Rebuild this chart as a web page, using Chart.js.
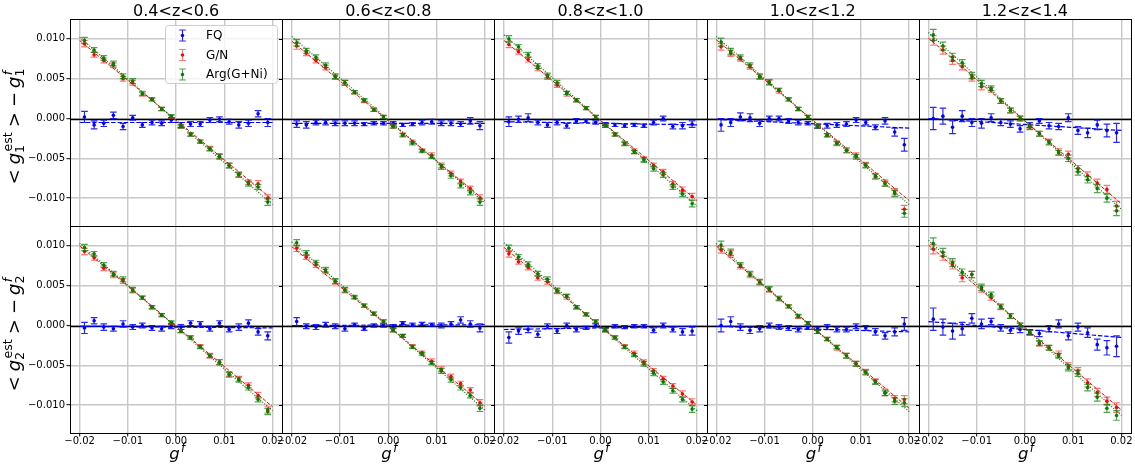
<!DOCTYPE html>
<html lang="en">
<head>
<meta charset="UTF-8">
<title>Shear bias per redshift bin</title>
<script src="https://cdn.jsdelivr.net/npm/chart.js"></script>
<style>
  body { margin: 0; background: #fff; }
</style>
</head>
<body>
<canvas id="biasChart" width="1135" height="474"></canvas>
<script>
// ---- data ----
const zBins = ['0.4<z<0.6', '0.6<z<0.8', '0.8<z<1.0', '1.0<z<1.2', '1.2<z<1.4'];
const gTrue = [-0.019, -0.017, -0.015, -0.013, -0.011, -0.009, -0.007, -0.005, -0.003, -0.001,
               0.001, 0.003, 0.005, 0.007, 0.009, 0.011, 0.013, 0.015, 0.017, 0.019];
const fitX = [-0.02, 0.02];
const xTicks = [-0.02, -0.01, 0, 0.01, 0.02];
const yTicks = [-0.01, -0.005, 0, 0.005, 0.01];

// FQ, g1 (top row), one array per redshift bin
const fqG1 = [
  [0.0002, -0.0008, -0.0006, 0.0004, -0.0010, 0.0001, -0.0008, -0.0005, -0.0006, -0.0002, -0.0008, -0.0007, -0.0007, -0.0002, -0.0001, -0.0004, -0.0008, -0.0006, 0.0006, -0.0005],
  [-0.0007, -0.0008, -0.0005, -0.0005, -0.0006, -0.0006, -0.0006, -0.0007, -0.0006, -0.0006, -0.0006, -0.0008, -0.0007, -0.0005, -0.0004, -0.0006, -0.0006, -0.0007, -0.0003, -0.0009],
  [-0.0004, -0.0001, 0.0001, -0.0005, -0.0008, -0.0005, -0.0009, -0.0003, -0.0003, -0.0005, -0.0007, -0.0008, -0.0009, -0.0008, -0.0009, -0.0005, 0.0000, -0.0010, -0.0009, -0.0007],
  [-0.0008, -0.0005, 0.0002, 0.0001, -0.0006, 0.0000, 0.0000, -0.0003, -0.0005, -0.0006, -0.0010, -0.0009, -0.0008, -0.0007, -0.0002, -0.0005, -0.0011, -0.0003, -0.0017, -0.0033],
  [0.0000, 0.0003, -0.0011, 0.0003, -0.0005, -0.0006, 0.0001, -0.0005, -0.0007, -0.0013, -0.0008, -0.0003, -0.0009, -0.0010, 0.0001, -0.0015, -0.0018, -0.0008, -0.0015, -0.0018]
];
const errFqG1 = [
  [0.0007, 0.0005, 0.0004, 0.0004, 0.0004, 0.0003, 0.0003, 0.0003, 0.0003, 0.0003, 0.0003, 0.0003, 0.0003, 0.0003, 0.0003, 0.0003, 0.0004, 0.0004, 0.0004, 0.0005],
  [0.0004, 0.0004, 0.0003, 0.0003, 0.0003, 0.0003, 0.0003, 0.0002, 0.0002, 0.0002, 0.0002, 0.0002, 0.0002, 0.0003, 0.0003, 0.0003, 0.0003, 0.0003, 0.0004, 0.0005],
  [0.0006, 0.0004, 0.0005, 0.0003, 0.0003, 0.0003, 0.0003, 0.0003, 0.0002, 0.0002, 0.0002, 0.0002, 0.0002, 0.0002, 0.0002, 0.0003, 0.0003, 0.0003, 0.0004, 0.0004],
  [0.0008, 0.0005, 0.0005, 0.0005, 0.0004, 0.0003, 0.0003, 0.0003, 0.0003, 0.0002, 0.0002, 0.0003, 0.0003, 0.0003, 0.0003, 0.0003, 0.0003, 0.0004, 0.0005, 0.0008],
  [0.0014, 0.0010, 0.0008, 0.0007, 0.0005, 0.0006, 0.0005, 0.0004, 0.0004, 0.0004, 0.0003, 0.0003, 0.0004, 0.0004, 0.0005, 0.0005, 0.0006, 0.0006, 0.0008, 0.0012]
];
// FQ, g2 (bottom row)
const fqG2 = [
  [-0.0003, 0.0006, -0.0002, -0.0004, 0.0002, -0.0002, 0.0000, -0.0003, -0.0004, -0.0001, -0.0002, 0.0003, 0.0002, -0.0004, 0.0003, -0.0005, -0.0002, 0.0003, -0.0008, -0.0013],
  [0.0005, -0.0001, -0.0002, 0.0001, -0.0001, -0.0004, 0.0001, -0.0004, 0.0000, 0.0000, -0.0001, 0.0003, 0.0001, 0.0002, 0.0001, 0.0000, 0.0002, 0.0007, 0.0002, -0.0003],
  [-0.0015, -0.0007, -0.0005, -0.0011, -0.0001, -0.0007, 0.0000, -0.0005, -0.0003, 0.0000, -0.0005, -0.0001, -0.0002, -0.0001, -0.0001, -0.0006, 0.0000, -0.0005, -0.0008, -0.0007],
  [0.0000, 0.0005, -0.0002, -0.0006, -0.0004, 0.0000, -0.0002, -0.0003, -0.0005, -0.0003, -0.0004, -0.0002, -0.0005, -0.0005, -0.0001, -0.0003, -0.0008, -0.0013, -0.0008, 0.0002],
  [0.0008, -0.0002, -0.0007, -0.0004, 0.0009, 0.0002, 0.0005, -0.0003, -0.0006, -0.0005, -0.0008, -0.0010, -0.0004, 0.0002, -0.0013, -0.0002, -0.0009, -0.0024, -0.0028, -0.0026]
];
const errFqG2 = [
  [0.0007, 0.0004, 0.0004, 0.0003, 0.0004, 0.0003, 0.0003, 0.0003, 0.0003, 0.0003, 0.0003, 0.0003, 0.0003, 0.0003, 0.0003, 0.0003, 0.0004, 0.0004, 0.0004, 0.0005],
  [0.0005, 0.0003, 0.0003, 0.0003, 0.0003, 0.0003, 0.0002, 0.0002, 0.0002, 0.0002, 0.0002, 0.0002, 0.0002, 0.0002, 0.0002, 0.0003, 0.0003, 0.0004, 0.0004, 0.0005],
  [0.0007, 0.0004, 0.0004, 0.0004, 0.0003, 0.0003, 0.0003, 0.0003, 0.0002, 0.0002, 0.0002, 0.0002, 0.0002, 0.0002, 0.0002, 0.0003, 0.0003, 0.0003, 0.0004, 0.0005],
  [0.0008, 0.0006, 0.0004, 0.0004, 0.0004, 0.0003, 0.0003, 0.0003, 0.0003, 0.0002, 0.0002, 0.0003, 0.0003, 0.0003, 0.0003, 0.0003, 0.0004, 0.0004, 0.0005, 0.0008],
  [0.0014, 0.0010, 0.0010, 0.0008, 0.0006, 0.0006, 0.0004, 0.0004, 0.0004, 0.0004, 0.0003, 0.0004, 0.0004, 0.0005, 0.0005, 0.0005, 0.0006, 0.0007, 0.0009, 0.0013]
];

// G/N
const gnG1 = [
  [0.0094, 0.0080, 0.0073, 0.0067, 0.0050, 0.0045, 0.0031, 0.0024, 0.0012, 0.0002, -0.0010, -0.0020, -0.0029, -0.0038, -0.0047, -0.0059, -0.0070, -0.0080, -0.0082, -0.0100],
  [0.0091, 0.0082, 0.0073, 0.0064, 0.0052, 0.0045, 0.0033, 0.0022, 0.0011, 0.0002, -0.0010, -0.0020, -0.0029, -0.0040, -0.0046, -0.0059, -0.0069, -0.0079, -0.0088, -0.0100],
  [0.0093, 0.0084, 0.0074, 0.0063, 0.0052, 0.0042, 0.0031, 0.0023, 0.0013, 0.0002, -0.0009, -0.0020, -0.0031, -0.0041, -0.0051, -0.0059, -0.0067, -0.0082, -0.0090, -0.0098],
  [0.0090, 0.0082, 0.0075, 0.0065, 0.0052, 0.0045, 0.0035, 0.0024, 0.0012, 0.0002, -0.0010, -0.0021, -0.0031, -0.0040, -0.0046, -0.0058, -0.0072, -0.0081, -0.0092, -0.0114],
  [0.0098, 0.0086, 0.0073, 0.0065, 0.0051, 0.0040, 0.0036, 0.0022, 0.0010, 0.0000, -0.0010, -0.0019, -0.0029, -0.0042, -0.0045, -0.0063, -0.0072, -0.0081, -0.0089, -0.0110]
];
const errGnG1 = [
  [0.0004, 0.0003, 0.0003, 0.0003, 0.0003, 0.0003, 0.0003, 0.0002, 0.0002, 0.0002, 0.0002, 0.0002, 0.0002, 0.0003, 0.0003, 0.0003, 0.0003, 0.0003, 0.0004, 0.0004],
  [0.0004, 0.0003, 0.0003, 0.0003, 0.0003, 0.0003, 0.0002, 0.0002, 0.0002, 0.0002, 0.0002, 0.0002, 0.0002, 0.0002, 0.0003, 0.0003, 0.0003, 0.0003, 0.0003, 0.0004],
  [0.0004, 0.0003, 0.0003, 0.0003, 0.0003, 0.0003, 0.0003, 0.0002, 0.0002, 0.0002, 0.0002, 0.0002, 0.0002, 0.0003, 0.0003, 0.0003, 0.0003, 0.0003, 0.0004, 0.0004],
  [0.0004, 0.0004, 0.0003, 0.0003, 0.0003, 0.0003, 0.0003, 0.0002, 0.0002, 0.0002, 0.0002, 0.0002, 0.0003, 0.0003, 0.0003, 0.0003, 0.0003, 0.0004, 0.0004, 0.0005],
  [0.0006, 0.0005, 0.0005, 0.0004, 0.0004, 0.0004, 0.0003, 0.0003, 0.0003, 0.0003, 0.0003, 0.0003, 0.0003, 0.0004, 0.0004, 0.0004, 0.0005, 0.0005, 0.0005, 0.0006]
];
const gnG2 = [
  [0.0093, 0.0085, 0.0072, 0.0063, 0.0056, 0.0044, 0.0035, 0.0023, 0.0013, 0.0003, -0.0007, -0.0015, -0.0026, -0.0038, -0.0046, -0.0061, -0.0067, -0.0075, -0.0088, -0.0106],
  [0.0097, 0.0086, 0.0076, 0.0068, 0.0055, 0.0044, 0.0035, 0.0025, 0.0015, 0.0005, -0.0006, -0.0013, -0.0026, -0.0034, -0.0045, -0.0055, -0.0064, -0.0073, -0.0081, -0.0097],
  [0.0090, 0.0080, 0.0073, 0.0060, 0.0055, 0.0043, 0.0036, 0.0023, 0.0014, 0.0005, -0.0006, -0.0015, -0.0026, -0.0035, -0.0046, -0.0057, -0.0067, -0.0076, -0.0086, -0.0096],
  [0.0095, 0.0090, 0.0074, 0.0063, 0.0054, 0.0045, 0.0034, 0.0024, 0.0011, 0.0003, -0.0008, -0.0017, -0.0028, -0.0038, -0.0048, -0.0058, -0.0070, -0.0084, -0.0092, -0.0093],
  [0.0096, 0.0087, 0.0076, 0.0060, 0.0064, 0.0046, 0.0035, 0.0023, 0.0012, 0.0000, -0.0009, -0.0023, -0.0028, -0.0036, -0.0051, -0.0057, -0.0072, -0.0084, -0.0095, -0.0103]
];
const errGnG2 = [
  [0.0004, 0.0003, 0.0003, 0.0003, 0.0003, 0.0003, 0.0002, 0.0002, 0.0002, 0.0002, 0.0002, 0.0002, 0.0002, 0.0003, 0.0003, 0.0003, 0.0003, 0.0003, 0.0004, 0.0004],
  [0.0004, 0.0003, 0.0003, 0.0003, 0.0003, 0.0003, 0.0002, 0.0002, 0.0002, 0.0002, 0.0002, 0.0002, 0.0002, 0.0002, 0.0003, 0.0003, 0.0003, 0.0003, 0.0003, 0.0004],
  [0.0004, 0.0003, 0.0003, 0.0003, 0.0003, 0.0003, 0.0003, 0.0002, 0.0002, 0.0002, 0.0002, 0.0002, 0.0002, 0.0003, 0.0003, 0.0003, 0.0003, 0.0003, 0.0004, 0.0004],
  [0.0004, 0.0004, 0.0003, 0.0003, 0.0003, 0.0003, 0.0003, 0.0002, 0.0002, 0.0002, 0.0002, 0.0002, 0.0003, 0.0003, 0.0003, 0.0003, 0.0003, 0.0004, 0.0004, 0.0005],
  [0.0006, 0.0005, 0.0005, 0.0005, 0.0004, 0.0004, 0.0003, 0.0003, 0.0003, 0.0003, 0.0003, 0.0003, 0.0003, 0.0004, 0.0004, 0.0004, 0.0005, 0.0005, 0.0005, 0.0006]
];

// Arg(G+Ni)
const argG1 = [
  [0.0098, 0.0086, 0.0076, 0.0069, 0.0053, 0.0047, 0.0031, 0.0024, 0.0012, 0.0003, -0.0010, -0.0020, -0.0029, -0.0038, -0.0048, -0.0059, -0.0071, -0.0082, -0.0086, -0.0105],
  [0.0095, 0.0085, 0.0077, 0.0067, 0.0053, 0.0045, 0.0033, 0.0023, 0.0011, 0.0002, -0.0010, -0.0021, -0.0031, -0.0041, -0.0048, -0.0061, -0.0072, -0.0084, -0.0093, -0.0105],
  [0.0100, 0.0090, 0.0080, 0.0066, 0.0054, 0.0045, 0.0032, 0.0023, 0.0013, 0.0002, -0.0009, -0.0020, -0.0032, -0.0042, -0.0052, -0.0063, -0.0071, -0.0086, -0.0095, -0.0107],
  [0.0096, 0.0084, 0.0077, 0.0067, 0.0053, 0.0046, 0.0036, 0.0024, 0.0012, 0.0002, -0.0010, -0.0021, -0.0031, -0.0040, -0.0048, -0.0059, -0.0073, -0.0082, -0.0094, -0.0119],
  [0.0105, 0.0091, 0.0077, 0.0070, 0.0054, 0.0044, 0.0038, 0.0022, 0.0010, 0.0000, -0.0011, -0.0019, -0.0030, -0.0043, -0.0050, -0.0067, -0.0077, -0.0088, -0.0100, -0.0116]
];
const errArgG1 = [
  [0.0004, 0.0003, 0.0003, 0.0003, 0.0003, 0.0003, 0.0002, 0.0002, 0.0002, 0.0002, 0.0002, 0.0002, 0.0002, 0.0002, 0.0003, 0.0003, 0.0003, 0.0003, 0.0003, 0.0004],
  [0.0004, 0.0003, 0.0003, 0.0003, 0.0003, 0.0003, 0.0002, 0.0002, 0.0002, 0.0002, 0.0002, 0.0002, 0.0002, 0.0002, 0.0002, 0.0003, 0.0003, 0.0003, 0.0003, 0.0004],
  [0.0004, 0.0003, 0.0003, 0.0003, 0.0003, 0.0003, 0.0002, 0.0002, 0.0002, 0.0002, 0.0002, 0.0002, 0.0002, 0.0002, 0.0003, 0.0003, 0.0003, 0.0003, 0.0003, 0.0004],
  [0.0005, 0.0004, 0.0003, 0.0003, 0.0003, 0.0003, 0.0002, 0.0002, 0.0002, 0.0002, 0.0002, 0.0002, 0.0002, 0.0003, 0.0003, 0.0003, 0.0003, 0.0003, 0.0004, 0.0005],
  [0.0007, 0.0005, 0.0005, 0.0004, 0.0004, 0.0004, 0.0003, 0.0003, 0.0003, 0.0003, 0.0003, 0.0003, 0.0003, 0.0003, 0.0004, 0.0004, 0.0004, 0.0005, 0.0005, 0.0006]
];
const argG2 = [
  [0.0098, 0.0090, 0.0076, 0.0065, 0.0058, 0.0045, 0.0035, 0.0023, 0.0013, 0.0004, -0.0007, -0.0015, -0.0027, -0.0038, -0.0046, -0.0062, -0.0068, -0.0078, -0.0093, -0.0108],
  [0.0104, 0.0091, 0.0079, 0.0070, 0.0056, 0.0045, 0.0036, 0.0025, 0.0015, 0.0005, -0.0006, -0.0013, -0.0027, -0.0036, -0.0047, -0.0057, -0.0068, -0.0078, -0.0088, -0.0104],
  [0.0097, 0.0086, 0.0077, 0.0065, 0.0058, 0.0044, 0.0037, 0.0023, 0.0014, 0.0005, -0.0006, -0.0015, -0.0027, -0.0037, -0.0048, -0.0060, -0.0071, -0.0082, -0.0093, -0.0105],
  [0.0101, 0.0092, 0.0076, 0.0065, 0.0055, 0.0046, 0.0034, 0.0024, 0.0012, 0.0003, -0.0008, -0.0017, -0.0027, -0.0038, -0.0048, -0.0059, -0.0071, -0.0085, -0.0095, -0.0097],
  [0.0103, 0.0092, 0.0079, 0.0067, 0.0064, 0.0048, 0.0039, 0.0024, 0.0012, 0.0000, -0.0009, -0.0022, -0.0028, -0.0038, -0.0053, -0.0060, -0.0078, -0.0090, -0.0104, -0.0113]
];
const errArgG2 = [
  [0.0004, 0.0003, 0.0003, 0.0003, 0.0003, 0.0003, 0.0002, 0.0002, 0.0002, 0.0002, 0.0002, 0.0002, 0.0002, 0.0002, 0.0003, 0.0003, 0.0003, 0.0003, 0.0003, 0.0004],
  [0.0004, 0.0003, 0.0003, 0.0003, 0.0003, 0.0003, 0.0002, 0.0002, 0.0002, 0.0002, 0.0002, 0.0002, 0.0002, 0.0002, 0.0002, 0.0003, 0.0003, 0.0003, 0.0003, 0.0004],
  [0.0004, 0.0003, 0.0003, 0.0003, 0.0003, 0.0003, 0.0002, 0.0002, 0.0002, 0.0002, 0.0002, 0.0002, 0.0002, 0.0002, 0.0003, 0.0003, 0.0003, 0.0003, 0.0003, 0.0004],
  [0.0005, 0.0004, 0.0003, 0.0003, 0.0003, 0.0003, 0.0002, 0.0002, 0.0002, 0.0002, 0.0002, 0.0002, 0.0002, 0.0003, 0.0003, 0.0003, 0.0003, 0.0003, 0.0004, 0.0005],
  [0.0007, 0.0005, 0.0005, 0.0004, 0.0004, 0.0004, 0.0003, 0.0003, 0.0003, 0.0003, 0.0003, 0.0003, 0.0003, 0.0003, 0.0004, 0.0004, 0.0004, 0.0005, 0.0005, 0.0006]
];

// straight-line fits: value at g^f = -0.02 and at +0.02
const fitFqG1 = [[-0.0005, -0.0005], [-0.0006, -0.0006], [-0.0004, -0.0008], [-0.0001, -0.0012], [0.0000, -0.0015]];
const fitGnG1 = [[0.0098, -0.0102], [0.0097, -0.0103], [0.0098, -0.0103], [0.0099, -0.0103], [0.0101, -0.0107]];
const fitArgG1 = [[0.0102, -0.0108], [0.0103, -0.0106], [0.0105, -0.0110], [0.0103, -0.0108], [0.0108, -0.0114]];
const fitFqG2 = [[-0.0001, -0.0003], [0.0000, 0.0001], [-0.0005, -0.0001], [-0.0001, -0.0008], [0.0005, -0.0015]];
const fitGnG2 = [[0.0100, -0.0102], [0.0099, -0.0101], [0.0098, -0.0100], [0.0100, -0.0104], [0.0101, -0.0106]];
const fitArgG2 = [[0.0103, -0.0107], [0.0105, -0.0106], [0.0104, -0.0107], [0.0103, -0.0108], [0.0107, -0.0113]];

// ---- styling ----
Chart.defaults.font.family = '"DejaVu Sans", sans-serif';
const FONT = '"DejaVu Sans", sans-serif';

const series = [
  { label: 'FQ', color: '#0000ff', barColor: 'rgba(0,0,255,0.85)', dash: [4.4, 1.9], lw: 1.2,
    values: [fqG1, fqG2], errors: [errFqG1, errFqG2], fits: [fitFqG1, fitFqG2] },
  { label: 'G/N', color: '#ff0000', barColor: 'rgba(255,0,0,0.55)', dash: [3.7, 1.6], lw: 1,
    values: [gnG1, gnG2], errors: [errGnG1, errGnG2], fits: [fitGnG1, fitGnG2] },
  { label: 'Arg(G+Ni)', color: '#008000', barColor: 'rgba(0,128,0,0.7)', dash: [1, 1.6], lw: 1.2,
    values: [argG1, argG2], errors: [errArgG1, errArgG2], fits: [fitArgG1, fitArgG2] }
];
const rowAxes = ['yG1', 'yG2'];

const datasets = [];
rowAxes.forEach((yId, r) => {
  zBins.forEach((z, c) => {
    series.forEach((s, k) => {
      datasets.push({
        label: s.label,
        data: gTrue.map((g, i) => ({ x: g, y: s.values[r][c][i] })),
        errBars: s.errors[r][c],
        barColor: s.barColor,
        xAxisID: 'x' + c,
        yAxisID: yId,
        showLine: false,
        pointRadius: 1.8,
        pointBorderWidth: 0,
        pointBackgroundColor: s.color,
        order: 6 - 2 * k
      });
      datasets.push({
        label: s.label + ' fit',
        data: fitX.map((g, i) => ({ x: g, y: s.fits[r][c][i] })),
        xAxisID: 'x' + c,
        yAxisID: yId,
        showLine: true,
        borderColor: s.color,
        borderWidth: s.lw,
        borderDash: s.dash,
        pointRadius: 0,
        order: 5 - 2 * k
      });
    });
  });
});

function fmtTick(v, digits) {
  const t = Math.abs(v).toFixed(digits);
  return (v < 0 && Number(t) !== 0 ? '\u2212' : '') + t;
}

const gridOpts = { color: '#c8c8c8', lineWidth: 1.4, tickColor: '#000', tickLength: 3.5, tickWidth: 1 };

const scales = {};
zBins.forEach((z, c) => {
  scales['x' + c] = {
    type: 'linear', position: 'bottom', stack: 'cols', stackWeight: 1,
    min: -0.022, max: 0.022,
    border: { display: false },
    grid: gridOpts,
    afterBuildTicks: s => { s.ticks = xTicks.map(v => ({ value: v })); },
    ticks: { autoSkip: false, maxRotation: 0, padding: -1.5, color: '#000', font: { size: 10 },
             callback: v => fmtTick(v, 2) },
    afterFit: s => { s.height = 41; s.paddingLeft = 0; s.paddingRight = 0; }
  };
});
rowAxes.forEach((id, r) => {
  scales[id] = {
    type: 'linear', position: 'left', stack: 'rows', stackWeight: 1, weight: 1 - r,
    min: -0.0135, max: 0.0125,
    border: { display: false },
    grid: gridOpts,
    afterBuildTicks: s => { s.ticks = yTicks.map(v => ({ value: v })); },
    ticks: { padding: 1.5, color: '#000', font: { size: 10 }, callback: v => fmtTick(v, 3) },
    afterFit: s => { s.width = 70; s.paddingTop = 0; s.paddingBottom = 0; }
  };
});

// math-like label: main glyphs with optional sub/superscripts
function drawMath(ctx, tokens, size, cx, cy, rotate) {
  const small = size * 0.7;
  const f = (sz, it) => (it ? 'italic ' : '') + sz + 'px ' + FONT;
  let w = 0;
  const laid = tokens.map(tk => {
    ctx.font = f(size, tk.it);
    const mw = ctx.measureText(tk.t).width;
    ctx.font = f(small, false);
    const subW = tk.sub ? ctx.measureText(tk.sub).width : 0;
    ctx.font = f(small, tk.supIt);
    const supW = tk.sup ? ctx.measureText(tk.sup).width + 0.08 * size : 0;
    const x = w + (tk.gap || 0) * size;
    w = x + mw + Math.max(subW, supW);
    return { tk, x, mw };
  });
  ctx.save();
  ctx.translate(cx, cy);
  if (rotate) ctx.rotate(-Math.PI / 2);
  ctx.fillStyle = '#000';
  ctx.textAlign = 'left';
  ctx.textBaseline = 'alphabetic';
  const x0 = -w / 2;
  laid.forEach(({ tk, x, mw }) => {
    ctx.font = f(size, tk.it);
    ctx.fillText(tk.t, x0 + x, 0);
    if (tk.sub) {
      ctx.font = f(small, false);
      ctx.fillText(tk.sub, x0 + x + mw, 0.24 * size);
    }
    if (tk.sup) {
      ctx.font = f(small, tk.supIt);
      ctx.fillText(tk.sup, x0 + x + mw + 0.08 * size, -0.42 * size);
    }
  });
  ctx.restore();
}

const yLabelTokens = n => [
  { t: '<' },
  { t: 'g', it: true, sub: String(n), sup: 'est', gap: 0.28 },
  { t: '>', gap: 0.28 },
  { t: '\u2212', gap: 0.28 },
  { t: 'g', it: true, sub: String(n), sup: 'f', supIt: true, gap: 0.22 }
];

const panelPlugin = {
  id: 'panels',
  beforeDatasetsDraw(chart) {
    const { ctx, chartArea } = chart;
    ctx.save();
    ctx.strokeStyle = '#000';
    ctx.lineWidth = 1.3;
    rowAxes.forEach(id => {
      const y = Math.round(chart.scales[id].getPixelForValue(0)) + 0.5;
      ctx.beginPath();
      ctx.moveTo(chartArea.left, y);
      ctx.lineTo(chartArea.right, y);
      ctx.stroke();
    });
    ctx.restore();
  },
  beforeDatasetDraw(chart, args) {
    const ds = chart.data.datasets[args.index];
    if (!ds.errBars) return;
    const xs = chart.scales[ds.xAxisID], ys = chart.scales[ds.yAxisID];
    const ctx = chart.ctx;
    ctx.save();
    ctx.strokeStyle = ds.barColor;
    ctx.lineWidth = 1.2;
    ds.data.forEach((p, i) => {
      const e = ds.errBars[i];
      const px = xs.getPixelForValue(p.x);
      const top = ys.getPixelForValue(p.y + e);
      const bot = ys.getPixelForValue(p.y - e);
      ctx.beginPath();
      ctx.moveTo(px, top); ctx.lineTo(px, bot);
      ctx.moveTo(px - 3.3, top); ctx.lineTo(px + 3.3, top);
      ctx.moveTo(px - 3.3, bot); ctx.lineTo(px + 3.3, bot);
      ctx.stroke();
    });
    ctx.restore();
  },
  afterDatasetsDraw(chart) {
    const { ctx } = chart;
    ctx.save();
    ctx.strokeStyle = '#000';
    ctx.lineWidth = 1;
    // panel frames
    zBins.forEach((z, c) => {
      const xs = chart.scales['x' + c];
      rowAxes.forEach(id => {
        const ys = chart.scales[id];
        ctx.strokeRect(Math.round(xs.left) + 0.5, Math.round(ys.top) + 0.5,
                       Math.round(xs.right) - Math.round(xs.left), Math.round(ys.bottom) - Math.round(ys.top));
        // shared-y tick marks on inner panels
        if (c > 0) {
          yTicks.forEach(v => {
            const y = Math.round(ys.getPixelForValue(v)) + 0.5;
            ctx.beginPath();
            ctx.moveTo(Math.round(xs.left) - 3, y);
            ctx.lineTo(Math.round(xs.left), y);
            ctx.stroke();
          });
        }
      });
    });
    ctx.restore();
  },
  afterDraw(chart) {
    const { ctx } = chart;
    // column titles and x labels
    zBins.forEach((z, c) => {
      const xs = chart.scales['x' + c];
      const cx = (xs.left + xs.right) / 2;
      ctx.save();
      ctx.fillStyle = '#000';
      ctx.font = '16px ' + FONT;
      ctx.textAlign = 'center';
      ctx.textBaseline = 'alphabetic';
      ctx.fillText(z, cx, 16);
      ctx.restore();
      drawMath(ctx, [{ t: 'g', it: true, sup: 'f', supIt: true }], 16.5, cx + 1, 459, false);
    });
    // y labels
    rowAxes.forEach((id, r) => {
      const ys = chart.scales[id];
      drawMath(ctx, yLabelTokens(r + 1), 18, 20, (ys.top + ys.bottom) / 2 + 4, true);
    });
    // legend inside the first top panel
    const xs = chart.scales.x0, ys = chart.scales.yG1;
    const lx = xs.left + 95, ly = ys.top + 6, lw = 112, lh = 58;
    ctx.save();
    ctx.beginPath();
    ctx.roundRect(lx + 0.5, ly + 0.5, lw, lh, 3);
    ctx.fillStyle = 'rgba(255,255,255,0.8)';
    ctx.fill();
    ctx.strokeStyle = '#cccccc';
    ctx.lineWidth = 1;
    ctx.stroke();
    series.forEach((s, k) => {
      const iy = ly + 10.5 + k * 19.5;
      const ix = lx + 17.5;
      ctx.strokeStyle = s.barColor;
      ctx.lineWidth = 1.2;
      ctx.beginPath();
      ctx.moveTo(ix, iy - 5.5); ctx.lineTo(ix, iy + 5.5);
      ctx.moveTo(ix - 3.3, iy - 5.5); ctx.lineTo(ix + 3.3, iy - 5.5);
      ctx.moveTo(ix - 3.3, iy + 5.5); ctx.lineTo(ix + 3.3, iy + 5.5);
      ctx.stroke();
      ctx.fillStyle = s.color;
      ctx.beginPath();
      ctx.arc(ix, iy, 1.7, 0, Math.PI * 2);
      ctx.fill();
      ctx.fillStyle = '#000';
      ctx.font = '12px ' + FONT;
      ctx.textAlign = 'left';
      ctx.textBaseline = 'middle';
      ctx.fillText(s.label, lx + 41, iy + 0.5);
    });
    ctx.restore();
  }
};

new Chart(document.getElementById('biasChart'), {
  type: 'scatter',
  data: { datasets },
  options: {
    responsive: false,
    animation: false,
    events: [],
    layout: { padding: { top: 19, right: 3, bottom: 0, left: 0 } },
    scales,
    plugins: { legend: { display: false }, tooltip: { enabled: false } }
  },
  plugins: [panelPlugin]
});
</script>
</body>
</html>
